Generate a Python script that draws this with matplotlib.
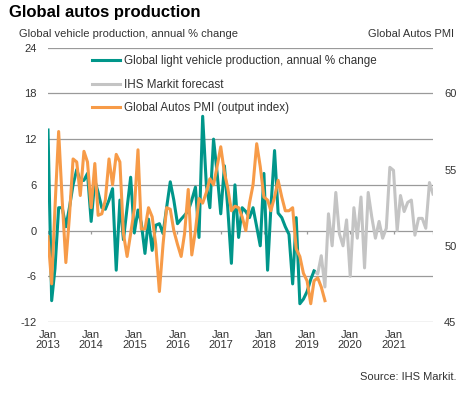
import matplotlib
matplotlib.use("Agg")
import matplotlib.pyplot as plt
import pandas as pd

plt.rcParams['font.family'] = ['Liberation Sans', 'DejaVu Sans']

# Global light vehicle production, annual % change (monthly, Jan 2013 - Mar 2019)
production = [13.2, -9.2, -5, 3, 3, 0.5, 3, 6, 8, 6.5, 6.6, 7.5,
              1.2, 6.6, 5, 3, 2.8, 4, 5.5, -5.2, 4, -1.2, 3, 7,
              -0.3, 2.7, 1, -3, 1.5, -2.6, 0.7, 0.9, -0.4, 3, 6.4, 4,
              0.9, 1.5, 2, 2.6, 4, 5.7, -0.9, 15, 6, 3, 12, 7.6,
              2.2, 8.5, 3, -4.3, 6, -0.9, 3, 2.5, 1.7, 3, 0.5, -2,
              7.5, -5.2, 3, 10.5, 2.3, 1.7, 0.5, -0.5, -7, 1.7, -9.6, -9,
              -8, -6.4, -5.3]

# IHS Markit forecast (Mar 2019 - Dec 2021)
forecast = [-5.3, -5.7, -3.3, -7.4, 2.2, -2, 5, -0.4, -2, 1.4,
            -6, 3, -1, 4.4, -4.9, 5, 1.8, -1, 1.2, -1, 0.3, 8.3,
            7.9, 0, 4.6, 2.5, 3.7, 4, -0.6, 1.6, 1.6, 0.3, 6.3, 4.8]

# Global Autos PMI, output index (Jan 2013 - Jun 2019)
pmi = [50.6, 47.5, 52.5, 57.5, 53.0, 48.9, 51.9, 55.7, 55.5, 53.3, 56.2, 55.5,
       52.5, 55.4, 52.0, 52.1, 53.0, 55.7, 54.0, 56.0, 55.5, 50.8, 49.3, 50.8,
       52.4, 56.3, 51.1, 51.1, 52.5, 51.9, 50.1, 47.0, 50.1, 52.5, 52.4, 51.0,
       50.1, 49.3, 50.8, 53.7, 49.4, 51.0, 53.1, 52.8, 53.5, 54.4, 54.0, 55.2,
       56.5, 54.8, 53.8, 52.3, 52.6, 52.5, 51.9, 51.0, 52.8, 54.0, 56.7, 55.2,
       53.2, 53.0, 52.3, 53.2, 54.3, 53.2, 52.3, 52.3, 52.5, 49.8, 49.3, 48.2,
       47.7, 46.2, 47.7, 47.9, 47.3, 46.4]

left_ticks = [-12, -6, 0, 6, 12, 18, 24]
right_ticks = [45, 50, 55, 60]
years = list(range(2013, 2022))

prod_dates = pd.date_range('2013-01-01', periods=len(production), freq='MS')
fc_dates = pd.date_range('2019-03-01', periods=len(forecast), freq='MS')
pmi_dates = pd.date_range('2013-01-01', periods=len(pmi), freq='MS')

TEAL = '#00968A'
GREY = '#C4C4C4'
ORANGE = '#F79B48'
GRID = '#9A9A9A'
TXT = '#333333'
FS = 8

W, H = 470, 397
fig = plt.figure(figsize=(W / 100, H / 100), dpi=100)
ax = fig.add_axes([48 / W, 1 - 322 / H, (433 - 48) / W, (322 - 47.7) / H])

l1, = ax.plot(prod_dates, production, color=TEAL, lw=2.2, zorder=3,
              label='Global light vehicle production, annual % change')
l2, = ax.plot(fc_dates, forecast, color=GREY, lw=2.2, zorder=2, label='IHS Markit forecast')

ax.set_ylim(-12, 24)
ax.set_yticks(left_ticks)
ax.set_yticklabels([str(t) for t in left_ticks])
ax.set_xlim(pd.Timestamp('2013-01-01'), pd.Timestamp('2021-12-01'))
tick_dates = [pd.Timestamp(f'{y}-01-01') for y in years]
ax.set_xticks(tick_dates)
ax.set_xticklabels([f'Jan\n{y}' for y in years], linespacing=1.1)
ax.tick_params(axis='both', length=0, labelsize=FS, colors=TXT)
ax.tick_params(axis='x', pad=5.5)
ax.tick_params(axis='y', pad=8)
for s in ax.spines.values():
    s.set_visible(False)
for t in left_ticks:
    ax.axhline(t, color=GRID, lw=0.9, zorder=1)
# small tick marks on the zero line
ax.vlines(tick_dates + [pd.Timestamp('2021-12-01')], -0.45, 0, color=GRID, lw=0.9, zorder=1)

ax2 = ax.twinx()
l3, = ax2.plot(pmi_dates, pmi, color=ORANGE, lw=2.2, zorder=4, label='Global Autos PMI (output index)')
ax2.set_ylim(45, 63)
ax2.set_yticks(right_ticks)
ax2.tick_params(axis='y', length=0, labelsize=FS, colors=TXT, pad=8)
for s in ax2.spines.values():
    s.set_visible(False)

fig.text(9 / W, 1 - 12 / H, 'Global autos production', fontsize=12, fontweight='bold',
         va='center', ha='left', color='black')
fig.text(19 / W, 1 - 34 / H, 'Global vehicle production, annual % change', fontsize=FS,
         va='center', ha='left', color=TXT)
fig.text(454 / W, 1 - 34 / H, 'Global Autos PMI', fontsize=FS, va='center', ha='right', color=TXT)
fig.text(456 / W, 1 - 377 / H, 'Source: IHS Markit.', fontsize=FS, va='center', ha='right', color=TXT)

fig.legend(handles=[l1, l2, l3], loc='upper left', bbox_to_anchor=(92 / W, 1 - 55 / H),
           frameon=False, fontsize=8.4, handlelength=2.4, handletextpad=0.3,
           labelspacing=1.0, borderpad=0, borderaxespad=0, labelcolor=TXT)

fig.savefig('out.png', dpi=100)
